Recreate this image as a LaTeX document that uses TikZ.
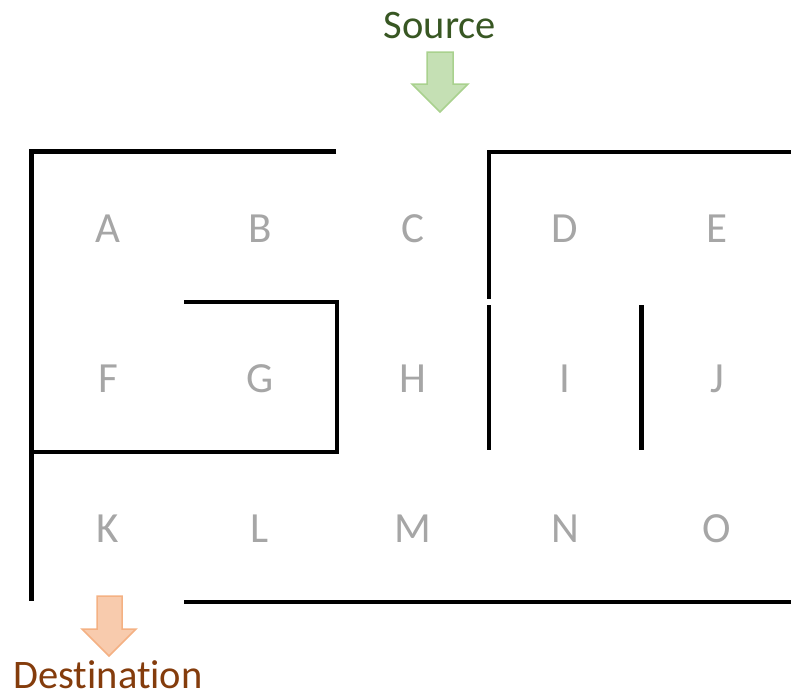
\documentclass[tikz,border=0pt]{standalone}
\usepackage{fontspec}
\setmainfont[Ligatures=NoCommon]{Carlito}
\definecolor{cellgray}{HTML}{A6A6A6}
\definecolor{srctext}{HTML}{385723}
\definecolor{srcfill}{HTML}{C5E0B4}
\definecolor{srcline}{HTML}{A9D18E}
\definecolor{dsttext}{HTML}{843C0C}
\definecolor{dstfill}{HTML}{F8CBAD}
\definecolor{dstline}{HTML}{F4B183}
\begin{document}
\begin{tikzpicture}[x=1pt,y=-1pt,
  wall/.style={line width=4.6pt,black,line join=miter},
  cell/.style={text=cellgray,font=\fontsize{43}{43}\selectfont,anchor=base,inner sep=0pt},
  tag/.style={font=\fontsize{40.5}{40.5}\selectfont,anchor=base,inner sep=0pt},
  marker/.style={line width=1.5pt,line join=miter}]
\useasboundingbox (0,0) rectangle (791,697);

% cell labels
\foreach \name/\x/\y in {A/108/242,B/260/242,C/413/242,D/565/242,E/717/242,
                         F/108/392,G/260/392,H/413/392,I/565/392,J/717/392,
                         K/108/542,L/260/542,M/413/542,N/565/542,O/717/542}
  \node[cell] (cell\name) at (\x,\y) {\name};

% walls
\draw[wall] (336,151.5) -- (31.5,151.5) -- (31.5,601);
\draw[wall] (184,302) -- (337,302) -- (337,452) -- (31.5,452);
\draw[wall] (791,152) -- (489,152) -- (489,299);
\draw[wall] (489,305) -- (489,450);
\draw[wall] (641.5,305) -- (641.5,450);
\draw[wall] (184,602) -- (791,602);

% entry marker
\node[tag,text=srctext] (source) at (440,38) {Source};
\draw[marker,draw=srcline,fill=srcfill]
  (427,52) -- (453,52) -- (453,84) -- (468,84) -- (440,112) -- (412,84) -- (427,84) -- cycle;

% exit marker
\node[tag,text=dsttext] (destination) at (108,688) {Destination};
\draw[marker,draw=dstline,fill=dstfill]
  (97,596) -- (122,596) -- (122,629) -- (136,629) -- (109,656) -- (82,629) -- (97,629) -- cycle;
\end{tikzpicture}
\end{document}
